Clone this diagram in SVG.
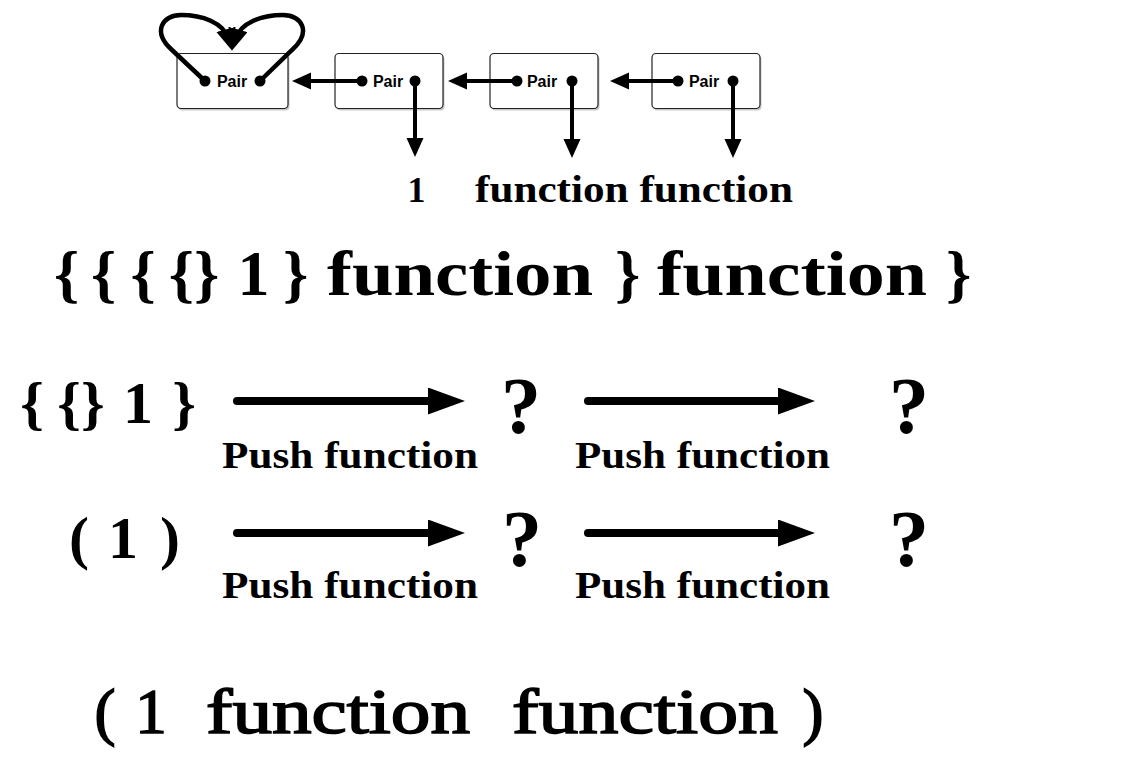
<svg xmlns="http://www.w3.org/2000/svg" width="1124" height="760" viewBox="0 0 1124 760">
<style>
.box{fill:#fff;stroke:#222;stroke-width:1.2}
.shadow{fill:#000;opacity:0.22}
.pair{font-family:"Liberation Sans",Arial,sans-serif;font-weight:bold;font-size:16px;fill:#000;text-anchor:middle}
.dot{fill:#000}
.thin{fill:none;stroke:#000;stroke-width:4;marker-end:url(#hs)}
.loop{fill:none;stroke:#000;stroke-width:4.5;marker-end:url(#hl)}
.thick{fill:none;stroke:#000;stroke-width:8;stroke-linecap:round;marker-end:url(#hb)}
.t{font-family:"Liberation Serif","Times New Roman",serif;font-weight:bold;fill:#000}
.m{text-anchor:middle}
.big{font-size:64px}
.row{font-size:60px}
.q{font-size:80px;text-anchor:middle}
.lbl{font-size:37px}
.bot{font-family:"Liberation Serif","Times New Roman",serif;font-weight:normal;font-size:63px;fill:#000;stroke:#000;stroke-width:1.6}
</style>
<defs>
<marker id="hs" markerUnits="userSpaceOnUse" markerWidth="20" markerHeight="18" refX="9" refY="8.5" orient="auto"><path d="M0,0 L19,8.5 L0,17 z" fill="#000"/></marker>
<marker id="hl" markerUnits="userSpaceOnUse" markerWidth="24" markerHeight="22" refX="11" refY="10" orient="auto"><path d="M0,0 L22,10 L0,20 z" fill="#000"/></marker>
<marker id="hb" markerUnits="userSpaceOnUse" markerWidth="40" markerHeight="28" refX="17" refY="13.5" orient="auto"><path d="M0,0 L37,13.5 L0,27 z" fill="#000"/></marker>
</defs>
<rect width="1124" height="760" fill="#fff"/>

<g id="pair1">
<rect class="shadow" x="178.5" y="55.5" width="111" height="55" rx="4"/>
<rect class="box" x="177" y="53.5" width="111" height="55" rx="4"/>
<circle class="dot" cx="205" cy="81" r="5.5"/>
<circle class="dot" cx="260" cy="81" r="5.5"/>
<text class="pair" x="232" y="87">Pair</text>
</g>
<g id="pair2">
<rect class="shadow" x="336.5" y="55.5" width="108" height="55" rx="4"/>
<rect class="box" x="335" y="53.5" width="108" height="55" rx="4"/>
<circle class="dot" cx="362" cy="81" r="5.5"/>
<circle class="dot" cx="415" cy="81" r="5.5"/>
<text class="pair" x="388" y="87">Pair</text>
</g>
<g id="pair3">
<rect class="shadow" x="491.5" y="55.5" width="108" height="55" rx="4"/>
<rect class="box" x="490" y="53.5" width="108" height="55" rx="4"/>
<circle class="dot" cx="517" cy="81" r="5.5"/>
<circle class="dot" cx="572" cy="81" r="5.5"/>
<text class="pair" x="542" y="87">Pair</text>
</g>
<g id="pair4">
<rect class="shadow" x="653.5" y="55.5" width="108" height="55" rx="4"/>
<rect class="box" x="652" y="53.5" width="108" height="55" rx="4"/>
<circle class="dot" cx="678" cy="81" r="5.5"/>
<circle class="dot" cx="733" cy="81" r="5.5"/>
<text class="pair" x="704" y="87">Pair</text>
</g>

<g id="connectors">
<path class="loop" d="M205,81 L172,50 C152,32 162,15 181,15 C201,15 224,22 229,40"/>
<path class="loop" d="M260,81 L292,50 C312,32 302,15 283,15 C263,15 240,22 235,40"/>
<path class="thin" d="M362,81 L302,81"/>
<path class="thin" d="M517,81 L458,81"/>
<path class="thin" d="M678,81 L620,81"/>
<path class="thin" d="M415,81 L415,147"/>
<path class="thin" d="M572,81 L572,148"/>
<path class="thin" d="M733,81 L733,148"/>
<path class="thick" d="M237,401 L445,401"/>
<path class="thick" d="M588,401 L795,401"/>
<path class="thick" d="M237,533 L445,533"/>
<path class="thick" d="M588,533 L795,533"/>
</g>

<g id="values">
<text class="t m" x="416.5" y="202" font-size="36">1</text>
<text class="t" x="475" y="202" font-size="38" textLength="318" lengthAdjust="spacingAndGlyphs">function function</text>
</g>

<g id="expr-big" class="t big">
<text class="m" x="66.5" y="295">{</text>
<text class="m" x="103.5" y="295">{</text>
<text class="m" x="143" y="295">{</text>
<text class="m" x="194" y="295">{}</text>
<text class="m" x="253.5" y="295">1</text>
<text class="m" x="295.5" y="295">}</text>
<text x="327" y="295" textLength="266" lengthAdjust="spacingAndGlyphs">function</text>
<text class="m" x="627.5" y="295">}</text>
<text x="657" y="295" textLength="270" lengthAdjust="spacingAndGlyphs">function</text>
<text class="m" x="958.5" y="295">}</text>
</g>

<g id="row1" class="t">
<text class="m row" x="32" y="423">{</text>
<text class="m row" x="81" y="423">{}</text>
<text class="m row" x="138" y="423">1</text>
<text class="m row" x="184" y="423">}</text>
<text class="q" x="521" y="433">?</text>
<text class="q" x="909" y="433">?</text>
<text class="lbl" x="222" y="468" textLength="256" lengthAdjust="spacingAndGlyphs">Push function</text>
<text class="lbl" x="575" y="468" textLength="255" lengthAdjust="spacingAndGlyphs">Push function</text>
</g>

<g id="row2" class="t">
<text class="m row" x="79" y="558">(</text>
<text class="m row" x="123" y="558">1</text>
<text class="m row" x="170" y="558">)</text>
<text class="q" x="522" y="566">?</text>
<text class="q" x="909" y="566">?</text>
<text class="lbl" x="222" y="598" textLength="256" lengthAdjust="spacingAndGlyphs">Push function</text>
<text class="lbl" x="575" y="598" textLength="255" lengthAdjust="spacingAndGlyphs">Push function</text>
</g>

<g id="result" class="bot">
<text text-anchor="middle" x="105" y="733">(</text>
<text text-anchor="middle" x="151" y="733">1</text>
<text x="206" y="733" textLength="264" lengthAdjust="spacingAndGlyphs">function</text>
<text x="512" y="733" textLength="266" lengthAdjust="spacingAndGlyphs">function</text>
<text text-anchor="middle" x="813" y="733">)</text>
</g>
</svg>
